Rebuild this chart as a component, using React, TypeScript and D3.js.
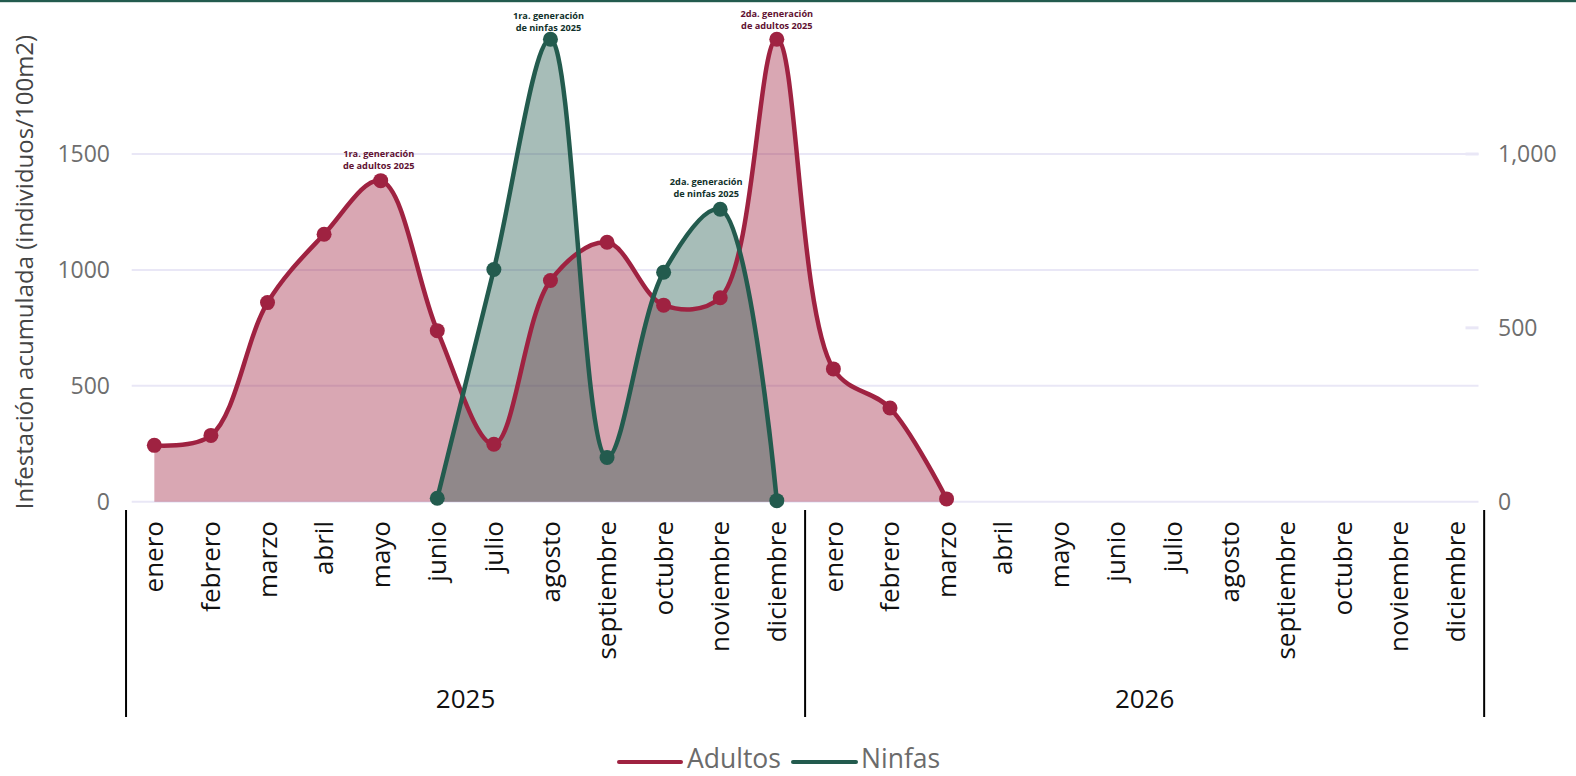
import React, { useEffect } from "react";
import * as d3 from "d3";

// ---------- data ----------
const months = ["enero", "febrero", "marzo", "abril", "mayo", "junio", "julio", "agosto", "septiembre", "octubre", "noviembre", "diciembre"];
const years = ["2025", "2026"];
const adultos: (number | null)[] = [243, 286, 859, 1154, 1385, 738, 248, 954, 1119, 848, 880, 1995, 573, 404, 12, null, null, null, null, null, null, null, null, null];
const ninfas: (number | null)[] = [null, null, null, null, null, 10, 668, 1330, 127, 660, 841, 3, null, null, null, null, null, null, null, null, null, null, null, null];
const leftTicks = [0, 500, 1000, 1500];
const rightTicks = [0, 500, 1000];
const annotLines = [
  ["1ra. generación", "de adultos 2025"],
  ["1ra. generación", "de ninfas 2025"],
  ["2da. generación", "de ninfas 2025"],
  ["2da. generación", "de adultos 2025"],
];
const annotSerie = ["adultos", "ninfas", "ninfas", "adultos"];
const annotIndex = [4, 7, 10, 11];
const legendNames = ["Adultos", "Ninfas"];

// ---------- style ----------
const W = 1576, H = 776;
const C_AD = "#9f2241", C_NI = "#235b4e";
const C_AD_TXT = "#611232", C_NI_TXT = "#10312b";
const GRID = "#e9e7f6";
const FONT = "'Open Sans', 'Noto Sans', sans-serif";
const annotDx = [-2, -2, -14, 0];
const annotDy = [-11.5, -8, -12, -10];

export default function App() {
  useEffect(() => {
    document.body.style.margin = "0";
    document.body.style.overflow = "hidden";
  }, []);

  const n = months.length * years.length;
  const cats = d3.range(n);
  const x = d3.scaleLinear().domain([-0.4, n - 0.6]).range([131.7, 1478.5]);
  const yL = d3.scaleLinear().domain([0, 1500]).range([501.7, 154]);
  const yR = d3.scaleLinear().domain([0, 1000]).range([501.7, 154]);

  type P = { i: number; v: number };
  const adPts: P[] = cats.filter((i) => adultos[i] != null).map((i) => ({ i, v: adultos[i] as number }));
  const niPts: P[] = cats.filter((i) => ninfas[i] != null).map((i) => ({ i, v: ninfas[i] as number }));

  const curve = d3.curveCatmullRom.alpha(0.5);
  const lineAd = d3.line<P>().x((d) => x(d.i)).y((d) => yL(d.v)).curve(curve);
  const areaAd = d3.area<P>().x((d) => x(d.i)).y0(yL(0)).y1((d) => yL(d.v)).curve(curve);
  const lineNi = d3.line<P>().x((d) => x(d.i)).y((d) => yR(d.v)).curve(curve);
  const areaNi = d3.area<P>().x((d) => x(d.i)).y0(yR(0)).y1((d) => yR(d.v)).curve(curve);

  const x0 = x.range()[0], x1 = x.range()[1];
  const divIdx = [-0.5, months.length - 0.5, n - 0.5];

  return (
    <svg width={W} height={H} style={{ position: "absolute", left: 0, top: 0, fontFamily: FONT }}>
      <rect x={0} y={0} width={W} height={H} fill="#fff" />
      <rect x={0} y={0} width={W} height={2.2} fill={C_NI} />

      {/* gridlines */}
      {leftTicks.map((t) => (
        <line key={"g" + t} x1={x0} x2={x1} y1={yL(t)} y2={yL(t)} stroke={GRID} strokeWidth={2} />
      ))}
      {rightTicks.filter((t) => t > 0).map((t) => (
        <line key={"rt" + t} x1={x1 - 13} x2={x1} y1={yR(t)} y2={yR(t)} stroke={GRID} strokeWidth={3} />
      ))}

      {/* fills */}
      <path d={areaAd(adPts) || ""} fill={C_AD} fillOpacity={0.4} />
      <path d={areaNi(niPts) || ""} fill={C_NI} fillOpacity={0.4} />

      {/* adultos */}
      <path d={lineAd(adPts) || ""} fill="none" stroke={C_AD} strokeWidth={4.5} />
      {adPts.map((d) => (
        <circle key={"a" + d.i} cx={x(d.i)} cy={yL(d.v)} r={7.5} fill={C_AD} />
      ))}
      {/* ninfas */}
      <path d={lineNi(niPts) || ""} fill="none" stroke={C_NI} strokeWidth={4.5} />
      {niPts.map((d) => (
        <circle key={"n" + d.i} cx={x(d.i)} cy={yR(d.v)} r={7.5} fill={C_NI} />
      ))}

      {/* annotations */}
      {annotLines.map((lines, k) => {
        const idx = annotIndex[k];
        const isAd = annotSerie[k] === "adultos";
        const py = isAd ? yL(adultos[idx] as number) : yR(ninfas[idx] as number);
        const cx = x(idx) + annotDx[k];
        const b2 = py + annotDy[k];
        return (
          <text key={"an" + k} x={cx} textAnchor="middle" fontSize={9.2} fontWeight={700} fill={isAd ? C_AD_TXT : C_NI_TXT}>
            <tspan x={cx} y={b2 - 12}>{lines[0]}</tspan>
            <tspan x={cx} y={b2}>{lines[1]}</tspan>
          </text>
        );
      })}

      {/* left axis */}
      {leftTicks.map((t) => (
        <text key={"lt" + t} x={110} y={yL(t)} dy="0.35em" textAnchor="end" fontSize={23} fill="#6e6e6e">
          {String(t)}
        </text>
      ))}
      <text transform={`translate(33,272) rotate(-90)`} textAnchor="middle" fontSize={24} fill="#444">
        Infestación acumulada (individuos/100m2)
      </text>

      {/* right axis */}
      {rightTicks.map((t) => (
        <text key={"rtl" + t} x={1498} y={yR(t)} dy="0.35em" textAnchor="start" fontSize={23} fill="#6e6e6e">
          {d3.format(",")(t)}
        </text>
      ))}

      {/* x axis multicategory */}
      {cats.map((i) => (
        <text key={"m" + i} transform={`translate(${x(i)},521) rotate(-90)`} dy="0.35em" textAnchor="end" fontSize={26} fill="#111">
          {months[i % months.length]}
        </text>
      ))}
      {divIdx.map((d, k) => (
        <line key={"dv" + k} x1={x(d)} x2={x(d)} y1={510} y2={717} stroke="#000" strokeWidth={2} />
      ))}
      {years.map((yr, k) => (
        <text key={"y" + yr} x={(x(divIdx[k]) + x(divIdx[k + 1])) / 2} y={708} textAnchor="middle" fontSize={26} fill="#111">
          {yr}
        </text>
      ))}

      {/* legend */}
      <line x1={619} x2={681} y1={762} y2={762} stroke={C_AD} strokeWidth={4} strokeLinecap="round" />
      <text x={687} y={768} fontSize={26.5} fill="#6b6b6b">{legendNames[0]}</text>
      <line x1={793} x2={856} y1={762} y2={762} stroke={C_NI} strokeWidth={4} strokeLinecap="round" />
      <text x={861} y={768} fontSize={26.5} fill="#6b6b6b">{legendNames[1]}</text>
    </svg>
  );
}
